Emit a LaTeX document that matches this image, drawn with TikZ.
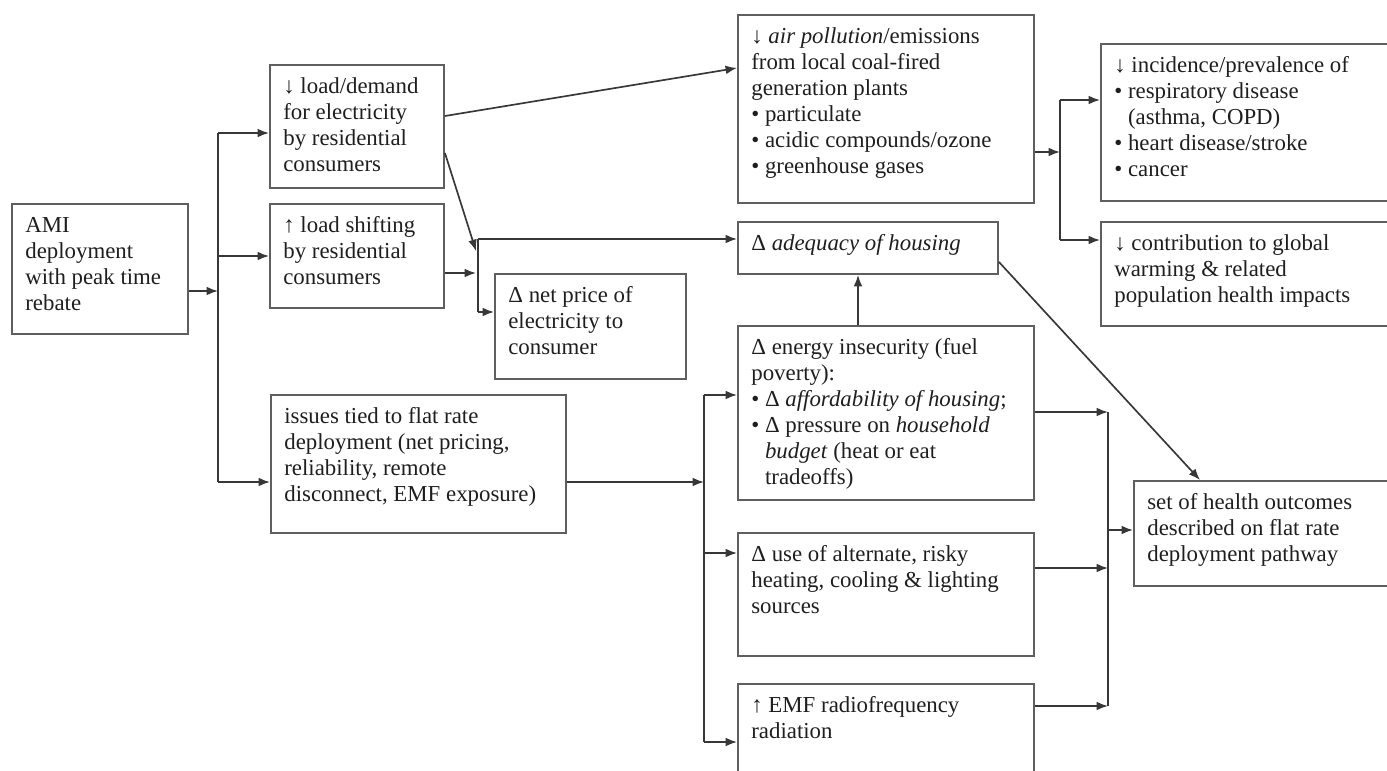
\documentclass[tikz,border=0pt]{standalone}
\usepackage{fontspec}
\setmainfont{Liberation Serif}
\usetikzlibrary{arrows.meta}
\definecolor{linegray}{RGB}{55,55,55}
\definecolor{boxgray}{RGB}{95,95,95}
\definecolor{textgray}{RGB}{30,30,30}
\newcommand{\itm}{•\ }
\newcommand{\hang}{\hphantom{•\ }}
\newcommand{\flowbox}[6]{%
  \node[box, minimum width=#4*0.02cm, minimum height=#5*0.02cm] (#1) at (#2,#3) {};
  \node[txt] (#1-t) at (#1.north west) {#6};}

\begin{document}
\begin{tikzpicture}[x=0.02cm, y=-0.02cm, >={Latex[length=6.5pt,width=5pt]},
  box/.style={draw=boxgray, line width=1.1pt, anchor=north west, inner sep=0pt},
  txt/.style={anchor=north west, align=left, inner xsep=0.28cm, inner ysep=0.22cm,
    font=\fontsize{13}{14.8}\selectfont, text=textgray},
  link/.style={draw=linegray, line width=0.95pt}]
\clip (0,0) rectangle (1387,771);

% boxes
\flowbox{ami}{11}{203}{176}{130}{\strut AMI\\deployment\\with peak time\\rebate}
\flowbox{ld}{269}{64}{174}{123}{\strut ↓ load/demand\\for electricity\\by residential\\consumers}
\flowbox{ls}{269}{203}{174}{104}{\strut ↑ load shifting\\by residential\\consumers}
\flowbox{iss}{270}{394}{295}{138}{\strut issues tied to flat rate\\deployment (net pricing,\\reliability, remote\\disconnect, EMF exposure)}
\flowbox{np}{494}{273}{191}{105}{\strut Δ net price of\\electricity to\\consumer}
\flowbox{ap}{737}{14}{296}{188}{\strut ↓ \textit{air pollution}/emissions\\from local coal-fired\\generation plants\\\itm particulate\\\itm acidic compounds/ozone\\\itm greenhouse gases}
\flowbox{adq}{737}{221}{260}{52}{\strut Δ \textit{adequacy of housing}}
\flowbox{inc}{1100}{43}{320}{157}{\strut ↓ incidence/prevalence of\\\itm respiratory disease\\\hang(asthma, COPD)\\\itm heart disease/stroke\\\itm cancer}
\flowbox{con}{1100}{221}{320}{104}{\strut ↓ contribution to global\\warming \& related\\population health impacts}
\flowbox{ei}{737}{325}{296}{174}{\strut Δ energy insecurity (fuel\\poverty):\\\itm Δ \textit{affordability of housing};\\\itm Δ pressure on \textit{household}\\\hang\textit{budget} (heat or eat\\\hang tradeoffs)}
\flowbox{use}{737}{532}{296}{123}{\strut Δ use of alternate, risky\\heating, cooling \& lighting\\sources}
\flowbox{emf}{737}{683}{296}{130}{\strut ↑ EMF radiofrequency\\radiation}
\flowbox{out}{1133}{480}{300}{105}{\strut set of health outcomes\\described on flat rate\\deployment pathway}

% bus and port points
\coordinate (a0) at (218,291);
\coordinate (a1) at (218,133);
\coordinate (a2) at (218,256);
\coordinate (a3) at (218,482);
\coordinate (j1) at (478,239);
\coordinate (j2) at (478,312);
\coordinate (jd) at (476,251);
\coordinate (jl) at (476,273);
\coordinate (ldo) at (443,116);
\coordinate (ldd) at (443,153);
\coordinate (api) at (737,68);
\coordinate (b0) at (1060,152);
\coordinate (b1) at (1060,100);
\coordinate (b2) at (1060,240);
\coordinate (c0) at (704,482);
\coordinate (c1) at (704,395);
\coordinate (c2) at (704,553);
\coordinate (c3) at (704,742);
\coordinate (d0) at (1108,530);
\coordinate (d1) at (1108,412);
\coordinate (d2) at (1108,568);
\coordinate (d3) at (1108,706);
\coordinate (ve) at (858,300);
\coordinate (dg) at (997,262);
\coordinate (dh) at (1200,480);

% connectors
\draw[link,->] (ami.east |- a0) -- (a0);
\draw[link] (a1) -- (a3);
\draw[link,->] (a1) -- (a1 -| ld.west);
\draw[link,->] (a2) -- (a2 -| ls.west);
\draw[link,->] (a3) -- (a3 -| iss.west);

\draw[link,->] (ld.east |- ldo) -- (ap.west |- api);
\draw[link,->] (ld.east |- ldd) -- (jd);
\draw[link,->] (ls.east |- jl) -- (jl);
\draw[link] (j1) -- (j2);
\draw[link,->] (j1) -- (j1 -| adq.west);
\draw[link,->] (j2) -- (j2 -| np.west);

\draw[link,->] (ap.east |- b0) -- (b0);
\draw[link] (b1) -- (b2);
\draw[link,->] (b1) -- (b1 -| inc.west);
\draw[link,->] (b2) -- (b2 -| con.west);

\draw[link,->] (ve |- ei.north) -- (ve |- adq.south);

\draw[link,->] (iss.east |- c0) -- (c0);
\draw[link] (c1) -- (c3);
\draw[link,->] (c1) -- (c1 -| ei.west);
\draw[link,->] (c2) -- (c2 -| use.west);
\draw[link,->] (c3) -- (c3 -| emf.west);

\draw[link,->] (ei.east |- d1) -- (d1);
\draw[link,->] (use.east |- d2) -- (d2);
\draw[link,->] (emf.east |- d3) -- (d3);
\draw[link] (d1) -- (d3);
\draw[link,->] (d0) -- (d0 -| out.west);

\draw[link,->] (adq.east |- dg) -- (out.north -| dh);
\end{tikzpicture}
\end{document}
